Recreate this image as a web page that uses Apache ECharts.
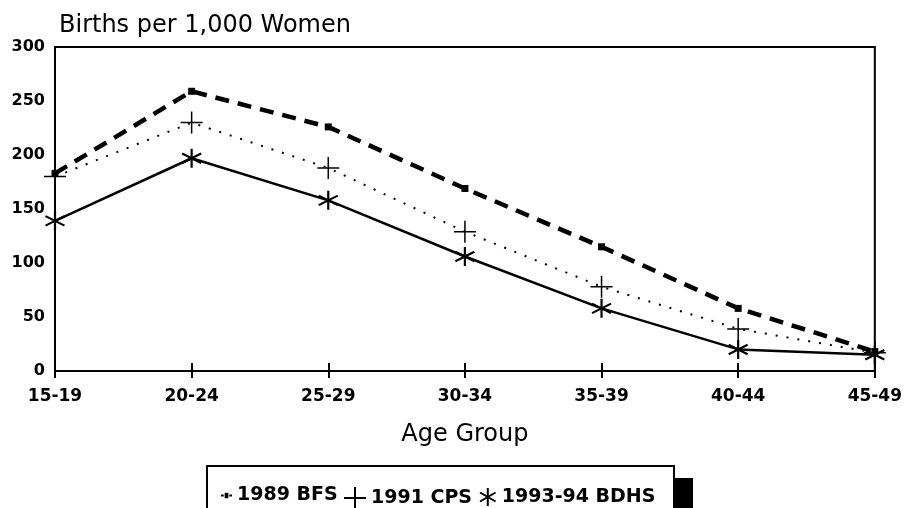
<!DOCTYPE html>
<html>
<head>
<meta charset="utf-8">
<script src="https://cdn.jsdelivr.net/npm/echarts@6/dist/echarts.min.js"></script>
<style>
  html, body { margin: 0; padding: 0; background: #fff; }
  #chart { width: 905px; height: 508px; }
</style>
</head>
<body>
<div id="chart"></div>
<script>
// age groups on the x axis
var ageGroups = ["15-19", "20-24", "25-29", "30-34", "35-39", "40-44", "45-49"];
// births per 1,000 women
var bfs1989 = [183, 259, 226, 169, 115, 58, 18];
var cps1991 = [180, 230, 188, 129, 78, 39, 17];
var bdhs1993 = [139, 197, 158, 106, 58, 20, 15];
var yTicks = [0, 50, 100, 150, 200, 250, 300];

var FONT = "DejaVu Sans";
var plusPath = "path://M0 10 L20 10 M10 0 L10 20";
var starPath = "path://M10 0 L10 20 M1.34 5 L18.66 15 M1.34 15 L18.66 5";
var bfsIcon = "path://M0 4 L3 4 L3 6 L0 6 Z M4 2 L8 2 L8 8 L4 8 Z M9 4 L12 4 L12 6 L9 6 Z";

var chart = echarts.init(document.getElementById("chart"));

var legendText = { color: "#000", fontFamily: FONT, fontWeight: "bold", fontSize: 19 };

chart.setOption({
  animation: false,
  title: {
    text: "Births per 1,000 Women",
    left: 54,
    top: 9,
    textStyle: { color: "#000", fontFamily: FONT, fontWeight: "normal", fontSize: 24 },
  },
  grid: {
    left: 55,
    right: 24,
    top: 47,
    bottom: 137,
    show: true,
    borderColor: "#000",
    borderWidth: 2,
  },
  graphic: [
    {
      type: "rect",
      z: 1,
      shape: { x: 675, y: 478, width: 18, height: 40 },
      style: { fill: "#000" },
    },
    {
      type: "rect",
      z: 1,
      shape: { x: 207, y: 466, width: 467, height: 60 },
      style: { fill: "#fff", stroke: "#000", lineWidth: 2 },
    },
  ],
  legend: [
    {
      z: 10,
      left: 216,
      top: 481,
      itemWidth: 11,
      itemHeight: 9,
      itemGap: 4,
      textStyle: legendText,
      data: [{ name: "1989 BFS", icon: bfsIcon }],
    },
    {
      z: 10,
      left: 338,
      top: 481,
      itemWidth: 22,
      itemHeight: 22,
      itemGap: 4,
      textStyle: legendText,
      data: [{ name: "1991 CPS", icon: plusPath }],
    },
    {
      z: 10,
      left: 474,
      top: 482,
      itemWidth: 18,
      itemHeight: 18,
      itemGap: 4,
      textStyle: legendText,
      data: [{ name: "1993-94 BDHS", icon: starPath }],
    },
  ],
  xAxis: [
    {
      type: "category",
      data: ageGroups,
      boundaryGap: false,
      name: "Age Group",
      nameLocation: "middle",
      nameGap: 52,
      nameTextStyle: { color: "#000", fontFamily: FONT, fontSize: 24 },
      axisLine: { lineStyle: { color: "#000", width: 2 } },
      axisTick: { show: true, length: 7, lineStyle: { color: "#000", width: 2 } },
      axisLabel: { color: "#000", fontFamily: FONT, fontWeight: "bold", fontSize: 17, margin: 17 },
      splitLine: { show: false },
    },
    {
      // second copy only for the upper half of the crossing ticks
      type: "category",
      data: ageGroups,
      boundaryGap: false,
      position: "bottom",
      axisLine: { show: false },
      axisTick: { show: true, inside: true, length: 8, lineStyle: { color: "#000", width: 2 } },
      axisLabel: { show: false },
      splitLine: { show: false },
    },
  ],
  yAxis: {
    type: "value",
    min: yTicks[0],
    max: yTicks[yTicks.length - 1],
    interval: yTicks[1] - yTicks[0],
    axisLine: { show: true, lineStyle: { color: "#000", width: 2 } },
    axisTick: { show: false },
    axisLabel: { color: "#000", fontFamily: FONT, fontWeight: "bold", fontSize: 16, margin: 10 },
    splitLine: { show: false },
  },
  series: [
    {
      name: "1989 BFS",
      type: "line",
      data: bfs1989,
      symbol: "rect",
      symbolSize: 7,
      itemStyle: { color: "#000" },
      lineStyle: { color: "#000", width: 4.5, type: [14, 9] },
    },
    {
      name: "1991 CPS",
      type: "line",
      data: cps1991,
      symbol: plusPath,
      symbolSize: 22,
      itemStyle: { color: "#000", borderColor: "#000", borderWidth: 1.5 },
      lineStyle: { color: "#000", width: 2, type: [2, 9] },
    },
    {
      name: "1993-94 BDHS",
      type: "line",
      data: bdhs1993,
      symbol: starPath,
      symbolSize: 19,
      itemStyle: { color: "#000", borderColor: "#000", borderWidth: 2.2 },
      lineStyle: { color: "#000", width: 2.5 },
    },
  ],
});
</script>
</body>
</html>
